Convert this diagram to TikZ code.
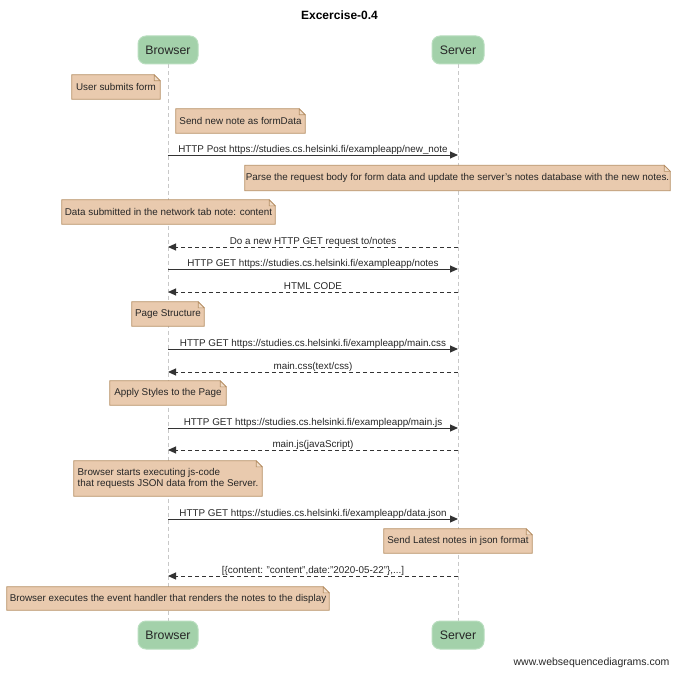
\documentclass[tikz,border=0pt]{standalone}
\usepackage{fontspec}
\setmainfont{Liberation Sans}
\usetikzlibrary{arrows.meta}
\pgfdeclarelayer{bg}
\pgfsetlayers{bg,main}
\definecolor{actorfill}{HTML}{A3D1AA}
\definecolor{actorline}{HTML}{B9DEBF}
\definecolor{memofill}{HTML}{E9CAAE}
\definecolor{memoline}{HTML}{B58E63}
\definecolor{foldfill}{HTML}{F0DCC8}
\definecolor{lifeline}{HTML}{C8C8C8}
\definecolor{msgline}{HTML}{333333}
\tikzset{
  actor/.style={draw=actorline, line width=1pt, fill=actorfill, rounded corners=8pt,
    minimum height=28, inner sep=0pt, font=\fontsize{12.3}{14}\selectfont, text=black!85},
  memo/.style={inner sep=0pt, minimum height=24, font=\fontsize{9.85}{11.8}\selectfont, text=black!85},
  memoedge/.style={draw=memoline, fill=memofill, line width=0.8pt},
  foldedge/.style={draw=memoline, fill=foldfill, line width=0.6pt},
  life/.style={draw=lifeline, line width=0.8pt, dash pattern=on 4pt off 3pt},
  msg/.style={draw=msgline, line width=1pt, -{Triangle[length=8pt,width=7pt]}},
  reply/.style={msg, dash pattern=on 4pt off 3pt},
  lbl/.style={anchor=base, yshift=2.2pt, inner sep=0pt, font=\fontsize{9.85}{11.8}\selectfont, text=black!85}
}
\begin{document}
\begin{tikzpicture}[x=1pt, y=-1pt]
\useasboundingbox (0,0) rectangle (677,674);

% title
\node[font=\bfseries\fontsize{12}{14}\selectfont] (title) at (339.5,15) {Excercise-0.4};

% participants
\node[actor, minimum width=60] (bt) at (168,50) {Browser};
\node[actor, minimum width=52] (st) at (458,50) {Server};
\node[actor, minimum width=60] (bb) at (168,635) {Browser};
\node[actor, minimum width=52] (sb) at (458,635) {Server};

% lifelines
\begin{pgfonlayer}{bg}
\draw[life] (bt.south) -- (bb.north);
\draw[life] (st.south) -- (sb.north);
\end{pgfonlayer}

% notes
\node[memo, minimum width=88] (m1) at (116,87) {User submits form};
\node[memo, minimum width=129] (m2) at (240.5,121) {Send new note as formData};
\node[memo, minimum width=425, minimum height=25] (m3) at (457.5,178) {Parse the request body for form data and update the server's notes database with the new notes.};
\node[memo, minimum width=213] (m4) at (168.5,212) {Data submitted in the network tab note: content};
\node[memo, minimum width=72] (m5) at (168,314) {Page Structure};
\node[memo, minimum width=116] (m6) at (168,393) {Apply Styles to the Page};
\node[memo, minimum width=188, minimum height=35, align=left] (m7) at (168,478.5)
  {Browser starts executing js-code\\that requests JSON data from the Server.};
\node[memo, minimum width=148] (m8) at (458,541) {Send Latest notes in json format};
\node[memo, minimum width=322, minimum height=23] (m9) at (168,598.5) {Browser executes the event handler that renders the notes to the display};

\begin{pgfonlayer}{bg}
\foreach \m in {m1,m2,m3,m4,m5,m6,m7,m8,m9}{
  \path[memoedge] (\m.south west) -- (\m.north west) -- ([xshift=-6pt]\m.north east)
    -- ([yshift=-6pt]\m.north east) -- (\m.south east) -- cycle;
  \path[foldedge] ([xshift=-6pt]\m.north east) -- ([xshift=-6pt,yshift=-6pt]\m.north east)
    -- ([yshift=-6pt]\m.north east) -- cycle;
}
\end{pgfonlayer}

% message end points on the lifelines
\foreach \n/\y in {a/155,b/247,c/269,d/292,e/349,f/372,g/428,h/450,i/519,j/576}{
  \coordinate (b\n) at (168,\y);
  \coordinate (s\n) at (458,\y);
}

% messages
\draw[msg] (ba) -- node[lbl] {HTTP Post https://studies.cs.helsinki.fi/exampleapp/new\_note} (sa);
\draw[reply] (sb) -- node[lbl] {Do a new HTTP GET request to/notes} (bb);
\draw[msg] (bc) -- node[lbl] {HTTP GET https://studies.cs.helsinki.fi/exampleapp/notes} (sc);
\draw[reply] (sd) -- node[lbl] {HTML CODE} (bd);
\draw[msg] (be) -- node[lbl] {HTTP GET https://studies.cs.helsinki.fi/exampleapp/main.css} (se);
\draw[reply] (sf) -- node[lbl] {main.css(text/css)} (bf);
\draw[msg] (bg) -- node[lbl] {HTTP GET https://studies.cs.helsinki.fi/exampleapp/main.js} (sg);
\draw[reply] (sh) -- node[lbl] {main.js(javaScript)} (bh);
\draw[msg] (bi) -- node[lbl] {HTTP GET https://studies.cs.helsinki.fi/exampleapp/data.json} (si);
\draw[reply] (sj) -- node[lbl] {[\{content: "content",date:"2020-05-22"\},...]} (bj);

% footer
\node[anchor=east, font=\fontsize{10.5}{12}\selectfont, text=black!85] (site) at (673,663) {www.websequencediagrams.com};
\end{tikzpicture}
\end{document}
